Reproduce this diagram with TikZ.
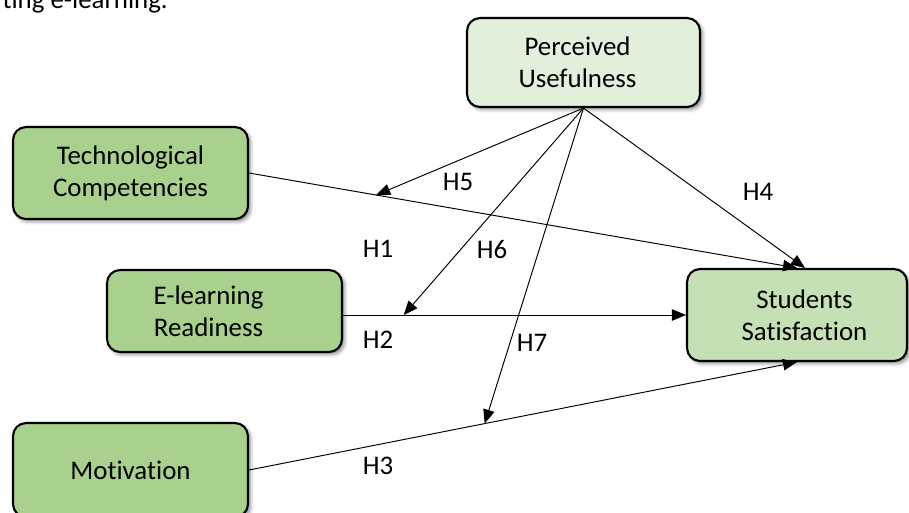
\documentclass[tikz,border=0pt]{standalone}
\usepackage{fontspec}
\setmainfont{Carlito}[Ligatures=NoCommon]
\usepackage{tikz}
\usetikzlibrary{arrows.meta,shadows.blur}
\definecolor{modelGreen}{HTML}{A9D18E}
\definecolor{modelMint}{HTML}{C5E0B4}
\definecolor{modelPale}{HTML}{E2EFDA}
\tikzset{
  txt/.style={font=\fontsize{15.3}{18.3}\selectfont},
}

\begin{document}
\begin{tikzpicture}[x=0.02cm, y=-0.02cm,
  box/.style={draw, line width=1.2pt, rounded corners=2.6mm, align=center,
              blur shadow={shadow xshift=1.5pt, shadow yshift=-1.5pt,
                           shadow blur radius=2pt, shadow opacity=45}},
  arr/.style={line width=0.55pt, -{Triangle[length=8pt,width=6.5pt]}}, txt]
  \clip (0,0) rectangle (909,512);
  \node[anchor=base east] (cap) at (174,8.5) {ting e-learning.};
  \node[box, fill=modelPale, minimum width=4.66cm, minimum height=1.78cm] (pu)  at (583.5,62.5) {Perceived\hspace*{0.24cm}\\Usefulness\hspace*{0.24cm}};
  \node[box, fill=modelGreen, minimum width=4.7cm, minimum height=1.84cm] (tc)  at (130.5,173)  {Technological\\Competencies};
  \node[box, fill=modelGreen, minimum width=4.7cm, minimum height=1.64cm] (er)  at (224.5,311)  {E-learning\hspace*{0.64cm}\\Readiness\hspace*{0.64cm}};
  \node[box, fill=modelMint,  minimum width=4.4cm, minimum height=1.84cm] (ss)  at (797,315)    {\hspace*{0.3cm}Students\\\hspace*{0.3cm}Satisfaction};
  \node[box, fill=modelGreen, minimum width=4.7cm, minimum height=1.88cm] (mot) at (130.5,470)  {Motivation};
  % direct paths
  \draw[arr] (tc.east) -- coordinate[pos=0.232] (mtc) (ss.north);
  \draw[arr] (er.east |- ss.west) -- coordinate[pos=0.177] (mer) (ss.west);
  \draw[arr] (mot.east) -- coordinate[pos=0.43] (mmot) (ss.south);
  % moderating paths
  \draw[arr] (pu.south) -- ([xshift=0.16cm]ss.north);
  \draw[arr] (pu.south) -- (mtc);
  \draw[arr] (pu.south) -- (mer);
  \draw[arr] (pu.south) -- (mmot);
  \node (h1) at (378,249) {H1};
  \node (h2) at (378,340) {H2};
  \node (h3) at (378,466) {H3};
  \node (h4) at (758,192) {H4};
  \node (h5) at (458,182) {H5};
  \node (h6) at (492,250) {H6};
  \node (h7) at (532,343) {H7};
\end{tikzpicture}
\end{document}
